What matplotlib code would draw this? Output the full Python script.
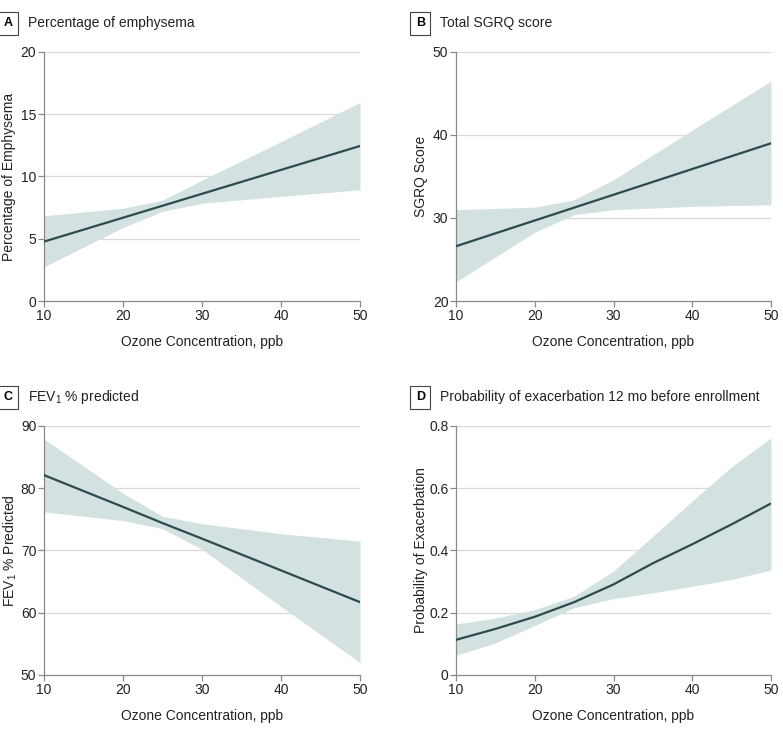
import matplotlib.pyplot as plt

plt.rcParams['font.family'] = ['Liberation Sans', 'DejaVu Sans']
plt.rcParams['mathtext.fontset'] = 'custom'
plt.rcParams['mathtext.rm'] = 'Liberation Sans'
plt.rcParams['mathtext.default'] = 'regular'

# Data
x_lin = [10, 20, 25, 30, 40, 50]

emph_mean = [4.77, 6.69, 7.65, 8.61, 10.53, 12.45]
emph_upper = [6.85, 7.45, 8.1, 9.7, 12.8, 15.95]
emph_lower = [2.75, 5.9, 7.2, 7.85, 8.4, 8.93]

sgrq_mean = [26.6, 29.7, 31.25, 32.8, 35.9, 39.0]
sgrq_upper = [31.0, 31.3, 32.2, 34.6, 40.6, 46.5]
sgrq_lower = [22.3, 28.3, 30.4, 31.0, 31.4, 31.6]

fev_mean = [82.1, 77.0, 74.4, 71.9, 66.8, 61.7]
fev_upper = [87.9, 79.2, 75.5, 74.3, 72.7, 71.5]
fev_lower = [76.2, 74.8, 73.5, 70.2, 61.0, 52.0]

x_exac = [10, 15, 20, 25, 30, 35, 40, 45, 50]
exac_mean = [0.113, 0.148, 0.187, 0.234, 0.291, 0.359, 0.42, 0.484, 0.551]
exac_upper = [0.164, 0.183, 0.21, 0.253, 0.334, 0.446, 0.559, 0.669, 0.762]
exac_lower = [0.063, 0.103, 0.159, 0.216, 0.245, 0.264, 0.285, 0.307, 0.337]

panels = [
    ('A', 'Percentage of emphysema', 'Percentage of Emphysema',
     x_lin, emph_mean, emph_lower, emph_upper, [0, 5, 10, 15, 20], ['0', '5', '10', '15', '20']),
    ('B', 'Total SGRQ score', 'SGRQ Score',
     x_lin, sgrq_mean, sgrq_lower, sgrq_upper, [20, 30, 40, 50], ['20', '30', '40', '50']),
    ('C', 'FEV$_1$ % predicted', 'FEV$_1$ % Predicted',
     x_lin, fev_mean, fev_lower, fev_upper, [50, 60, 70, 80, 90], ['50', '60', '70', '80', '90']),
    ('D', 'Probability of exacerbation 12 mo before enrollment', 'Probability of Exacerbation',
     x_exac, exac_mean, exac_lower, exac_upper, [0, 0.2, 0.4, 0.6, 0.8], ['0', '0.2', '0.4', '0.6', '0.8']),
]

positions = [
    [0.0562, 0.5871, 0.4036, 0.3416],
    [0.5824, 0.5871, 0.4023, 0.3416],
    [0.0562, 0.0741, 0.4036, 0.3416],
    [0.5824, 0.0741, 0.4023, 0.3416],
]
label_x = [-0.09, -0.09, -0.078, -0.09]

band_color = '#d3e2e1'
line_color = '#2c4b4c'
axis_color = '#8a8a8a'
text_color = '#222222'

fig = plt.figure(figsize=(7.83, 7.29), dpi=100)

for (letter, title, ylabel, xs, mean, lo, hi, yticks, ylabels), pos, lx in zip(panels, positions, label_x):
    ax = fig.add_axes(pos)
    ax.fill_between(xs, lo, hi, color=band_color, linewidth=0, zorder=2)
    ax.plot(xs, mean, color=line_color, linewidth=1.6, zorder=3)
    ax.set_xlim(10, 50)
    ax.set_ylim(yticks[0], yticks[-1])
    ax.set_xticks([10, 20, 30, 40, 50])
    ax.set_yticks(yticks)
    ax.set_yticklabels(ylabels)
    for t in yticks[1:]:
        ax.axhline(t, color='#d9d9d9', linewidth=0.9, zorder=1)
    for s in ['top', 'right']:
        ax.spines[s].set_visible(False)
    for s in ['left', 'bottom']:
        ax.spines[s].set_color(axis_color)
        ax.spines[s].set_linewidth(0.9)
    ax.tick_params(direction='out', length=4, width=0.9, color=axis_color,
                   labelsize=10, labelcolor=text_color, pad=1.5)
    ax.set_xlabel('Ozone Concentration, ppb', fontsize=10, color=text_color, labelpad=9)
    ax.set_ylabel(ylabel, fontsize=10, color=text_color)
    ax.yaxis.set_label_coords(lx, 0.5)

    # panel heading: boxed letter + title
    bx = pos[0] - 0.0515
    by = pos[1] + pos[3] + 0.0395
    fig.text(bx, by, letter, fontsize=9, fontweight='bold', ha='left', va='center',
             bbox=dict(boxstyle='square,pad=0.45', facecolor='white', edgecolor='#444444', linewidth=0.8))
    fig.text(bx + 0.031, by, title, fontsize=10, ha='left', va='center', color=text_color)

fig.savefig('out.png', dpi=100)
